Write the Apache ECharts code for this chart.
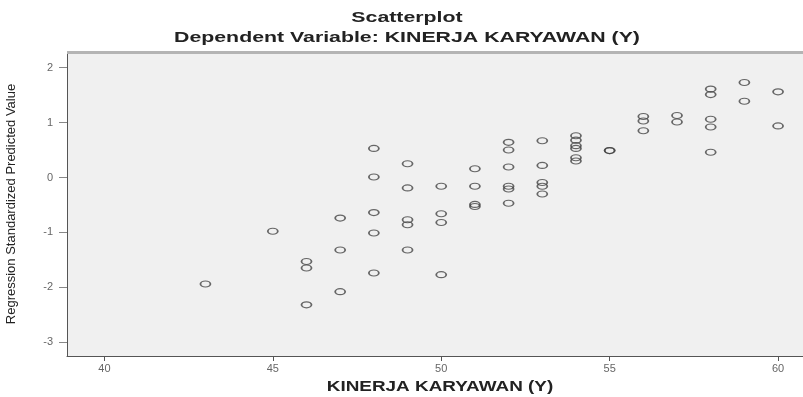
<!DOCTYPE html>
<html>
<head>
<meta charset="utf-8">
<script src="https://cdn.jsdelivr.net/npm/echarts@6/dist/echarts.min.js"></script>
<style>html,body{margin:0;padding:0;background:#fff;}#c{width:803px;height:397px;}</style>
</head>
<body>
<div id="c"></div>
<script>
// KINERJA KARYAWAN (Y) values
const xValues = [
  43,
  45,
  46, 46, 46,
  47, 47, 47,
  48, 48, 48, 48, 48,
  49, 49, 49, 49, 49,
  50, 50, 50, 50,
  51, 51, 51, 51,
  52, 52, 52, 52, 52, 52,
  53, 53, 53, 53, 53,
  54, 54, 54, 54, 54, 54,
  55, 55,
  56, 56, 56,
  57, 57,
  58, 58, 58, 58, 58,
  59, 59,
  60, 60
];
// Regression Standardized Predicted Value
const yValues = [
  -1.94,
  -0.98,
  -1.53, -1.65, -2.32,
  -0.74, -1.32, -2.08,
  0.53, 0.01, -0.64, -1.01, -1.74,
  0.25, -0.19, -0.77, -0.86, -1.32,
  -0.16, -0.66, -0.82, -1.77,
  0.16, -0.16, -0.49, -0.53,
  0.64, 0.50, 0.19, -0.16, -0.21, -0.47,
  0.67, 0.22, -0.09, -0.16, -0.30,
  0.76, 0.68, 0.58, 0.53, 0.36, 0.30,
  0.49, 0.49,
  1.11, 1.03, 0.85,
  1.13, 1.01,
  1.61, 1.51, 1.06, 0.92, 0.46,
  1.73, 1.39,
  1.56, 0.94
];
const xTicks = [40, 45, 50, 55, 60];
const yTicks = [-3, -2, -1, 0, 1, 2];
const titleText = 'Scatterplot';
const subtitleText = 'Dependent Variable: KINERJA KARYAWAN (Y)';
const xAxisTitle = 'KINERJA KARYAWAN (Y)';
const yAxisTitle = 'Regression Standardized Predicted Value';

const points = xValues.map((x, i) => [x, yValues[i]]);
const chart = echarts.init(document.getElementById('c'), null, {renderer: 'canvas'});
const FONT = '"Liberation Sans", Arial, sans-serif';

chart.setOption({
  animation: false,
  backgroundColor: '#ffffff',
  grid: {
    left: 67, right: 0, top: 52, bottom: 41,
    containLabel: false,
    outerBoundsMode: 'none',
    show: true, backgroundColor: '#f0f0f0', borderWidth: 0
  },
  graphic: [
    { type: 'rect', shape: {x: 67, y: 51, width: 736, height: 3}, style: {fill: '#b4b4b4'}, silent: true, z: 10 },
    { type: 'text', x: 407, y: 18, scaleX: 1.42,
      style: {text: titleText, font: 'bold 15px ' + FONT, fill: '#222', textAlign: 'center', textVerticalAlign: 'middle'} },
    { type: 'text', x: 407, y: 38, scaleX: 1.42,
      style: {text: subtitleText, font: 'bold 15px ' + FONT, fill: '#222', textAlign: 'center', textVerticalAlign: 'middle'} },
    { type: 'text', x: 440, y: 387, scaleX: 1.35,
      style: {text: xAxisTitle, font: 'bold 14px ' + FONT, fill: '#222', textAlign: 'center', textVerticalAlign: 'middle'} }
  ],
  xAxis: {
    type: 'value',
    min: 38.89, max: 60.74,
    splitLine: {show: false},
    axisLine: {show: true, onZero: false, lineStyle: {color: '#555', width: 1}},
    axisTick: {show: true, length: 5, customValues: xTicks, lineStyle: {color: '#555'}},
    axisLabel: {customValues: xTicks, color: '#666', fontSize: 11, fontFamily: FONT, margin: 7}
  },
  yAxis: {
    type: 'value',
    min: -3.252, max: 2.286,
    name: yAxisTitle,
    nameLocation: 'middle',
    nameRotate: 90,
    nameGap: 49,
    nameTextStyle: {color: '#222', fontSize: 13, fontFamily: FONT},
    splitLine: {show: false},
    axisLine: {show: true, onZero: false, lineStyle: {color: '#555', width: 1}},
    axisTick: {show: true, length: 8, customValues: yTicks, lineStyle: {color: '#888'}},
    axisLabel: {customValues: yTicks, color: '#666', fontSize: 11, fontFamily: FONT, margin: 14}
  },
  series: [{
    type: 'scatter',
    data: points,
    symbol: 'circle',
    symbolSize: [10, 6],
    itemStyle: {color: 'rgba(0,0,0,0)', borderColor: '#444', borderWidth: 1.4}
  }]
});
</script>
</body>
</html>
